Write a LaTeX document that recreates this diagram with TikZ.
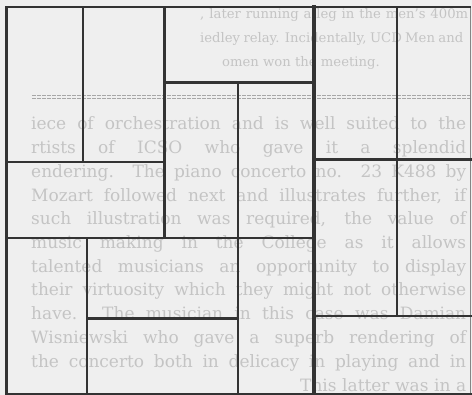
\documentclass[tikz,border=0pt]{standalone}
\usepackage{fontspec}
\setmainfont{DejaVu Serif}
\definecolor{paper}{HTML}{EFEFEF}
\definecolor{ink}{HTML}{333333}
\definecolor{ghost}{HTML}{C4C4C4}
\begin{document}
\begin{tikzpicture}[x=1pt,y=-1pt,
  wall/.style={draw=ink,line width=2.6pt,line cap=rect},
  thickwall/.style={draw=ink,line width=4.6pt,line cap=rect},
  edgewall/.style={draw=ink!60,line width=1.2pt},
  ghosttext/.style={text=ghost,inner sep=0pt,anchor=mid west,font=\fontsize{17}{20}\selectfont},
  ghosttop/.style={ghosttext,font=\fontsize{13.2}{16}\selectfont},
  rulebar/.style={draw=ghost!85!black,line width=1.1pt,dash pattern=on 4pt off 1pt},
]
\useasboundingbox (0,0) rectangle (472,395);
\fill[paper] (0,0) rectangle (472,395);
\begin{scope}
\clip (0,0) rectangle (472,395);
% faint show-through text
\node[ghosttop] (a1) at (200,16) {\makebox[268pt][s]{, later running a leg in the men's 400m}};
\node[ghosttop] (a2) at (200,40) {\makebox[263pt][s]{iedley relay. Incidentally, UCD Men and}};
\node[ghosttop] (a3) at (222,64) {omen won the meeting.};
\draw[rulebar] (32,95.5) -- (470,95.5);
\draw[rulebar] (32,98.8) -- (470,98.8);
\node[ghosttext] (b1) at (31,127) {\makebox[435pt][s]{iece of orchestration and is well suited to the}};
\node[ghosttext] (b2) at (31,151) {\makebox[435pt][s]{rtists of ICSO who gave it a splendid}};
\node[ghosttext] (b3) at (31,175) {\makebox[435pt][s]{endering. The piano concerto no. 23 K488 by}};
\node[ghosttext] (b4) at (31,199) {\makebox[435pt][s]{Mozart followed next and illustrates further, if}};
\node[ghosttext] (b5) at (31,222) {\makebox[435pt][s]{such illustration was required, the value of}};
\node[ghosttext] (b6) at (31,246) {\makebox[435pt][s]{music making in the College as it allows}};
\node[ghosttext] (b7) at (31,270) {\makebox[435pt][s]{talented musicians an opportunity to display}};
\node[ghosttext] (b8) at (31,293) {\makebox[435pt][s]{their virtuosity which they might not otherwise}};
\node[ghosttext] (b9) at (31,317) {\makebox[435pt][s]{have. The musician in this case was Damian}};
\node[ghosttext] (b10) at (31,341) {\makebox[435pt][s]{Wisniewski who gave a superb rendering of}};
\node[ghosttext] (b11) at (31,365) {\makebox[435pt][s]{the concerto both in delicacy in playing and in}};
\node[ghosttext] (b12) at (300,389) {\makebox[166pt][s]{This latter was in a}};
\end{scope}
% grid of walls
\draw[edgewall] (470.5,7) -- (470.5,394);
\draw[wall] (6.5,7) -- (470,7);
\draw[wall] (6.5,7) -- (6.5,394);
\draw[wall] (6.5,394) -- (472,394);
\draw[wall] (83,7) -- (83,162);
\draw[wall] (6.5,162) -- (164.5,162);
\draw[wall] (164.5,7) -- (164.5,238);
\draw[wall] (164.5,82.5) -- (314,82.5);
\draw[wall] (238,82.5) -- (238,394);
\draw[wall] (397,7) -- (397,316);
\draw[wall] (314,159.5) -- (472,159.5);
\draw[wall] (6.5,238) -- (314,238);
\draw[wall] (87,238) -- (87,394);
\draw[wall] (87,318.5) -- (238,318.5);
\draw[wall] (314,316) -- (472,316);
\draw[thickwall] (314,7) -- (314,394);
\end{tikzpicture}
\end{document}
